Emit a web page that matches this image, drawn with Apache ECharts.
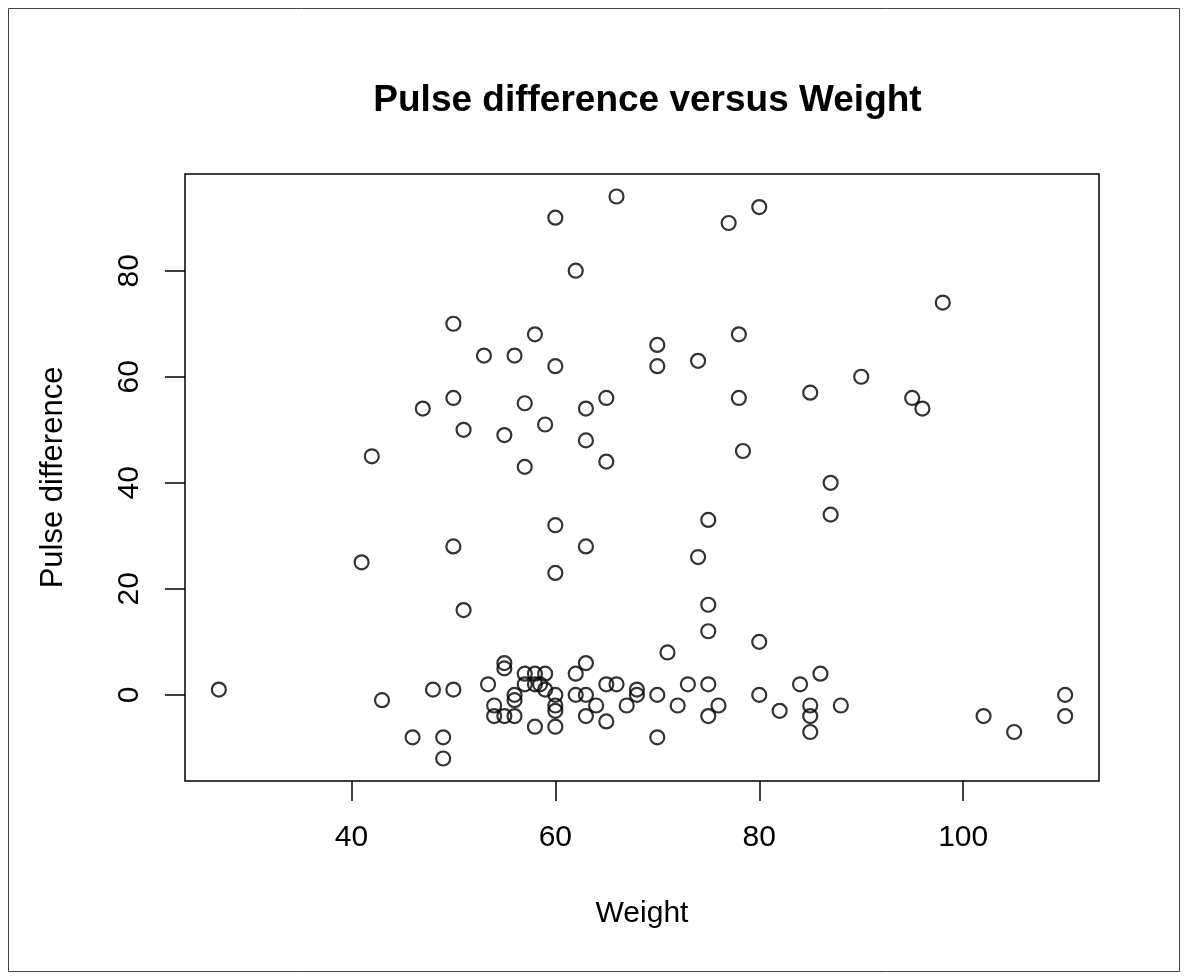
<!DOCTYPE html>
<html>
<head>
<meta charset="utf-8">
<title>Pulse difference versus Weight</title>
<script src="https://cdn.jsdelivr.net/npm/echarts@6/dist/echarts.min.js"></script>
<style>
  html, body { margin: 0; padding: 0; background: #ffffff; }
  #chart { width: 1188px; height: 980px; }
</style>
</head>
<body>
<div id="chart"></div>
<script>
// Body weight (kg) of each subject
const weight = [
  27, 41, 42, 43, 46, 47, 48, 49, 49, 50,
  50, 50, 50, 51, 51, 53, 53.4, 54, 54, 55,
  55, 55, 55, 56, 56, 56, 56, 57, 57, 57,
  57, 58, 58, 58, 58.5, 58, 59, 59, 59, 60,
  60, 60, 60, 60, 60, 60, 60, 62, 62, 62,
  63, 63, 63, 63, 63, 63, 64, 65, 65, 65,
  65, 66, 66, 67, 68, 68, 70, 70, 70, 70,
  71, 72, 73, 74, 74, 75, 75, 75, 75, 75,
  76, 77, 78, 78, 78.4, 80, 80, 80, 82, 84,
  85, 85, 85, 85, 86, 87, 87, 88, 90, 95,
  96, 98, 102, 105, 110, 110
];

// Pulse difference (after minus before) for the same subjects
const pulseDiff = [
  1, 25, 45, -1, -8, 54, 1, -8, -12, 70,
  56, 28, 1, 50, 16, 64, 2, -2, -4, 49,
  6, 5, -4, 64, 0, -1, -4, 55, 43, 4,
  2, 68, 4, 2, 2, -6, 51, 4, 1, 90,
  62, 32, 23, 0, -2, -3, -6, 80, 4, 0,
  54, 48, 28, 6, 0, -4, -2, 56, 44, 2,
  -5, 94, 2, -2, 1, 0, 66, 62, 0, -8,
  8, -2, 2, 63, 26, 33, 17, 12, 2, -4,
  -2, 89, 68, 56, 46, 92, 10, 0, -3, 2,
  57, -2, -4, -7, 4, 40, 34, -2, 60, 56,
  54, 74, -4, -7, 0, -4
];

// Tick positions on each axis
const xTicks = [40, 60, 80, 100];
const yTicks = [0, 20, 40, 60, 80];

// Axis extents: data range padded by 4% on each side
function paddedRange(values) {
  const lo = Math.min(...values), hi = Math.max(...values);
  const pad = (hi - lo) * 0.04;
  return [lo - pad, hi + pad];
}
const [xMin, xMax] = paddedRange(weight);
const [yMin, yMax] = paddedRange(pulseDiff);

const points = weight.map((w, i) => [w, pulseDiff[i]]);

const FONT = "'Liberation Sans', Arial, Helvetica, sans-serif";

const chart = echarts.init(document.getElementById('chart'), null, { renderer: 'canvas' });

chart.setOption({
  animation: false,
  backgroundColor: '#ffffff',
  title: {
    text: 'Pulse difference versus Weight',
    left: 642.5,
    top: 77,
    textAlign: 'center',
    textStyle: { fontFamily: FONT, fontSize: 37, fontWeight: 'bold', color: '#000' }
  },
  graphic: [{
    type: 'rect',
    shape: { x: 8.5, y: 8.5, width: 1171, height: 963 },
    style: { fill: 'none', stroke: '#444', lineWidth: 1 },
    silent: true
  }],
  grid: {
    left: 185, top: 174, width: 914, height: 607,
    show: true, borderColor: '#000', borderWidth: 1.5, backgroundColor: 'transparent'
  },
  xAxis: {
    type: 'value',
    min: xMin, max: xMax,
    name: 'Weight',
    nameLocation: 'middle',
    nameGap: 118,
    nameTextStyle: { fontFamily: FONT, fontSize: 30, color: '#000' },
    axisLine: { show: false, onZero: false },
    splitLine: { show: false },
    axisTick: { show: true, customValues: xTicks, length: 20, lineStyle: { color: '#000', width: 1.5 } },
    axisLabel: { customValues: xTicks, margin: 42, fontFamily: FONT, fontSize: 30, color: '#000' }
  },
  yAxis: {
    type: 'value',
    min: yMin, max: yMax,
    name: 'Pulse difference',
    nameLocation: 'middle',
    nameRotate: 90,
    nameGap: 116,
    nameTextStyle: { fontFamily: FONT, fontSize: 31, color: '#000' },
    axisLine: { show: false, onZero: false },
    splitLine: { show: false },
    axisTick: { show: true, customValues: yTicks, length: 20, lineStyle: { color: '#000', width: 1.5 } },
    axisLabel: { customValues: yTicks, rotate: 90, margin: 40, fontFamily: FONT, fontSize: 30, color: '#000' }
  },
  series: [{
    type: 'scatter',
    data: points,
    symbol: 'circle',
    symbolSize: 14,
    itemStyle: { color: 'rgba(0,0,0,0)', borderColor: '#000', borderWidth: 2.2 },
    emphasis: { disabled: true },
    silent: true
  }]
});
</script>
</body>
</html>
